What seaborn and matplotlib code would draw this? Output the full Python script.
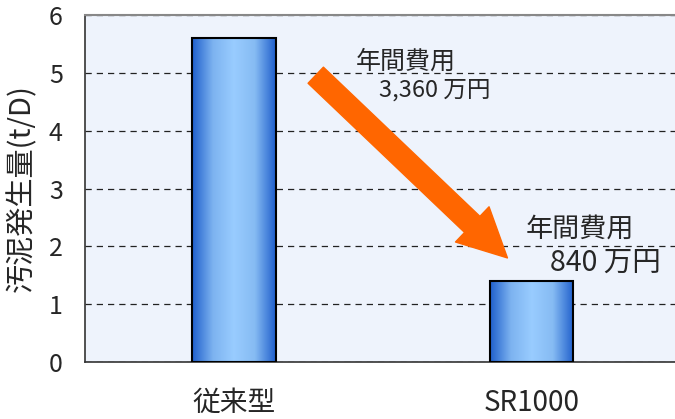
import numpy as np
import pandas as pd
import seaborn as sns
import matplotlib.pyplot as plt
from matplotlib.colors import LinearSegmentedColormap
from matplotlib.ticker import FixedLocator

categories = ["従来型", "SR1000"]
sludge = [5.6, 1.4]  # t/D
y_ticks = [0, 1, 2, 3, 4, 5, 6]

sns.set_theme(style="white")
plt.rcParams["font.family"] = ["Noto Sans CJK JP", "DejaVu Sans"]

df = pd.DataFrame({"type": categories, "sludge": sludge})

fig = plt.figure(figsize=(6.75, 4.19), dpi=100)
ax = fig.add_axes([0.126, 0.136, 0.882, 0.828])
ax.set_facecolor("#EEF3FC")

sns.barplot(data=df, x="type", y="sludge", ax=ax, width=0.28,
            color="#3377DD", edgecolor="black", linewidth=1.5, zorder=3)

# horizontal blue gradient inside each bar
grad = LinearSegmentedColormap.from_list(
    "bar", ["#1F5FCC", "#7DB3F0", "#99CCFF", "#86BBF3", "#1F5FCC"])
row = np.linspace(0, 1, 256).reshape(1, -1)
for p in ax.patches:
    x0, w, h = p.get_x(), p.get_width(), p.get_height()
    im = ax.imshow(row, cmap=grad, aspect="auto", extent=(x0, x0 + w, 0, h),
                   zorder=3.5, interpolation="bicubic")
    im.set_clip_path(p)
    p.set_facecolor("none")
    p.set_zorder(4)

ax.set_xlim(-0.5, 1.5)
ax.set_ylim(0, 6)
ax.set_yticks(y_ticks)
ax.yaxis.grid(True, linestyle=(0, (5, 4)), color="#222222", linewidth=0.9)
ax.set_axisbelow(True)

ax.set_xlabel("")
ax.set_ylabel("汚泥発生量(t/D)", fontsize=21, labelpad=8)
ax.tick_params(axis="y", length=0, pad=16, labelsize=18)
ax.tick_params(axis="x", which="major", length=0, pad=19, labelsize=20)
ax.xaxis.set_minor_locator(FixedLocator([0.5]))
ax.tick_params(axis="x", which="minor", direction="in", length=7,
               width=1, color="#555555")

for side in ["left", "bottom"]:
    ax.spines[side].set_color("#333333")
    ax.spines[side].set_linewidth(1.2)
ax.spines["top"].set_color("#888888")
ax.spines["top"].set_linewidth(1.5)
ax.spines["right"].set_visible(False)

# big orange arrow
ax.annotate("", xy=(0.919, 1.80), xytext=(0.275, 4.96),
            arrowprops=dict(arrowstyle="simple,tail_width=1.6,head_width=3.5,head_length=3.5",
                            mutation_scale=10, color="#FF6600", shrinkA=0, shrinkB=0),
            zorder=6)

ax.text(0.41, 5.2, "年間費用", fontsize=18, ha="left", va="center", zorder=7)
ax.text(0.488, 4.7, "3,360 万円", fontsize=17, ha="left", va="center", zorder=7)
ax.text(0.98, 2.29, "年間費用", fontsize=19.5, ha="left", va="center", zorder=7)
ax.text(1.063, 1.72, "840 万円", fontsize=20.5, ha="left", va="center", zorder=7)

fig.savefig("out.png", dpi=100)
